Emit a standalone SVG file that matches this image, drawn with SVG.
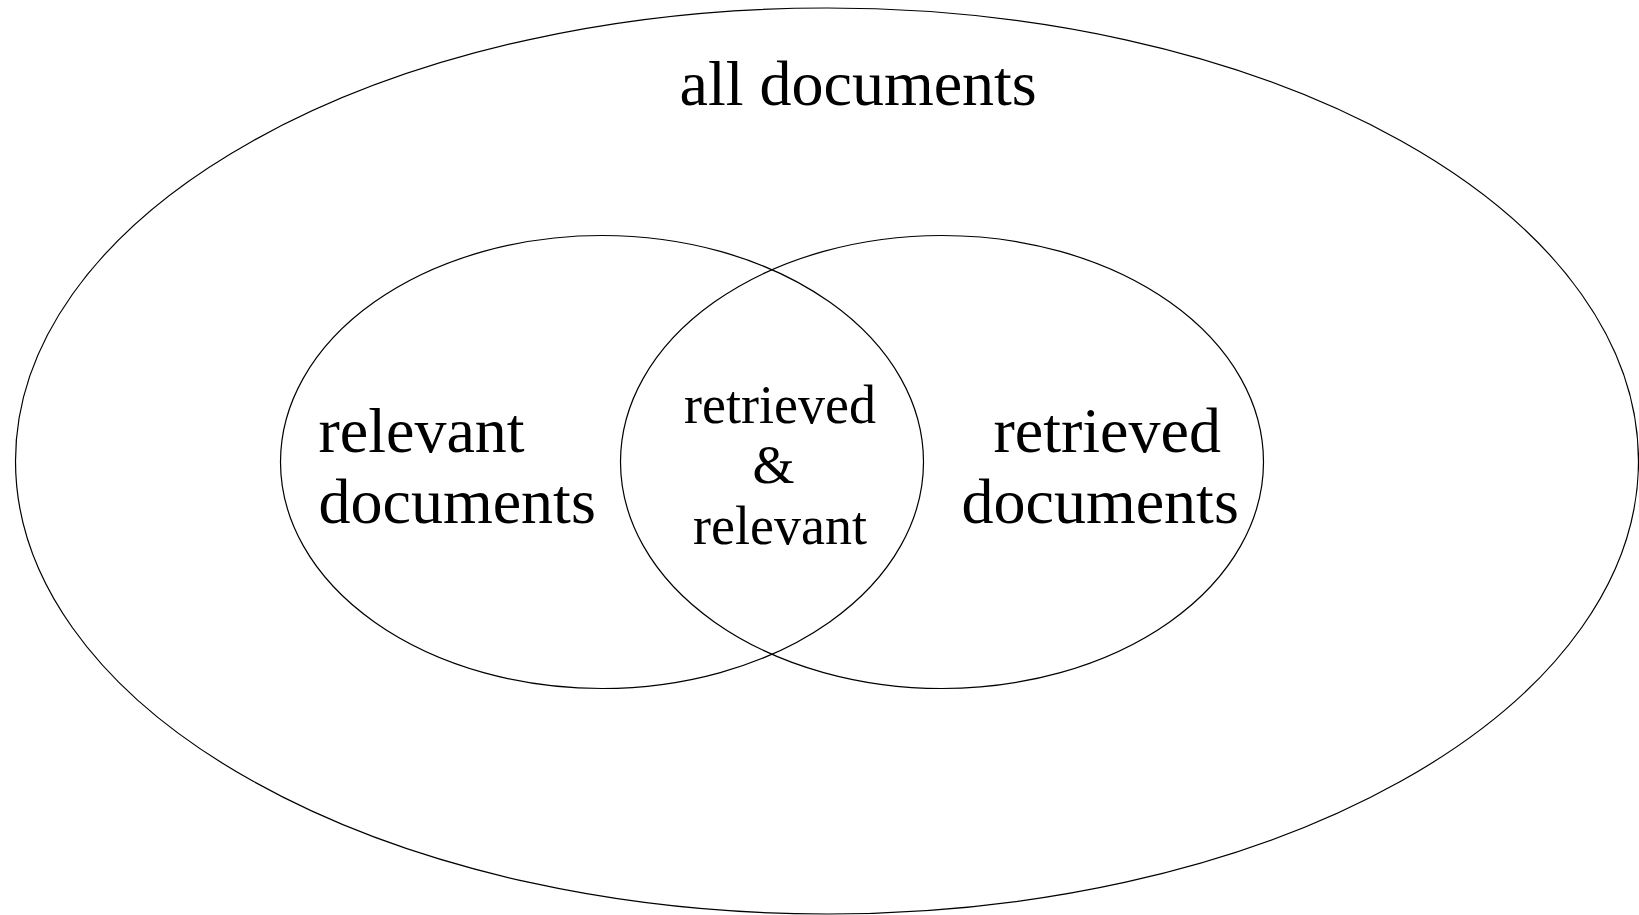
<svg xmlns="http://www.w3.org/2000/svg" width="1639" height="915" viewBox="0 0 1639 915">
<style>
.set{fill:none;stroke:#000;stroke-width:1.2}
.big{font-family:"Liberation Serif","Times New Roman",serif;font-size:64px;fill:#000}
.mid{font-family:"Liberation Serif","Times New Roman",serif;font-size:54px;fill:#000}
</style>
<rect width="1639" height="915" fill="#fff"/>
<g id="all">
<ellipse class="set" cx="827" cy="461" rx="811.5" ry="453"/>
<text class="big" x="679.5" y="104.5">all documents</text>
</g>
<g id="relevant">
<ellipse class="set" cx="602" cy="462" rx="321.5" ry="226.5"/>
<text class="big" x="318.5" y="451.5">relevant</text>
<text class="big" x="318.5" y="522.5">documents</text>
</g>
<g id="retrieved">
<ellipse class="set" cx="942" cy="462" rx="321.5" ry="226.5"/>
<text class="big" x="993.5" y="451.5">retrieved</text>
<text class="big" x="961.5" y="522.5">documents</text>
</g>
<g id="intersection">
<text class="mid" x="780" y="423.3" text-anchor="middle">retrieved</text>
<text class="mid" x="773.5" y="483" text-anchor="middle">&amp;</text>
<text class="mid" x="780" y="543.6" text-anchor="middle">relevant</text>
</g>
<g id="connectors"/>
</svg>
